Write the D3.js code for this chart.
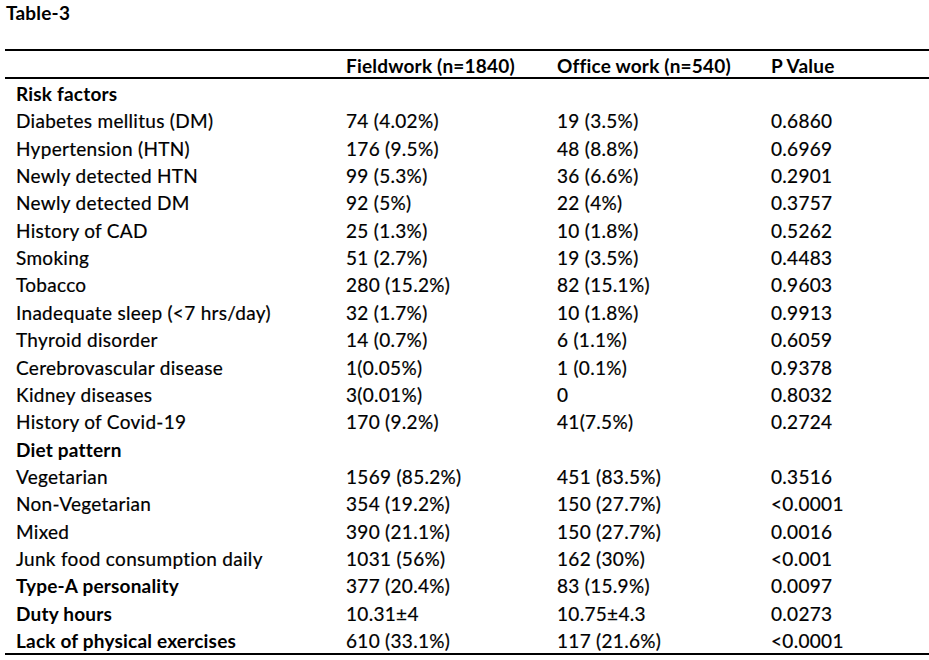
<!DOCTYPE html>
<meta charset="utf-8">
<head>
  <script src="https://cdnjs.cloudflare.com/ajax/libs/d3/7.8.5/d3.min.js"></script>
  <style type="text/css">
    body {
      margin: 0px;
      padding: 0px;
      background: #fff;
    }
    text {
      font-family: Lato, "Open Sans", sans-serif;
      font-size: 19px;
      letter-spacing: 0.3px;
      fill: #000;
      stroke: #000;
      stroke-width: 0.2px;
    }
    .bold {
      font-weight: bold;
      letter-spacing: 0.2px;
      stroke-width: 0;
    }
  </style>
</head>
<body>
<svg id="chart" width="929" height="660"></svg>
<script>
  // table content
  var title = "Table-3";
  var headers = ["", "Fieldwork (n=1840)", "Office work (n=540)", "P Value"];

  var rowLabels = ["Risk factors", "Diabetes mellitus (DM)", "Hypertension (HTN)", "Newly detected HTN",
    "Newly detected DM", "History of CAD", "Smoking", "Tobacco", "Inadequate sleep (<7 hrs/day)",
    "Thyroid disorder", "Cerebrovascular disease", "Kidney diseases", "History of Covid-19",
    "Diet pattern", "Vegetarian", "Non-Vegetarian", "Mixed", "Junk food consumption daily",
    "Type-A personality", "Duty hours", "Lack of physical exercises"];

  var fieldwork = ["", "74 (4.02%)", "176 (9.5%)", "99 (5.3%)", "92 (5%)", "25 (1.3%)", "51 (2.7%)",
    "280 (15.2%)", "32 (1.7%)", "14 (0.7%)", "1(0.05%)", "3(0.01%)", "170 (9.2%)",
    "", "1569 (85.2%)", "354 (19.2%)", "390 (21.1%)", "1031 (56%)",
    "377 (20.4%)", "10.31\u00b14", "610 (33.1%)"];

  var officeWork = ["", "19 (3.5%)", "48 (8.8%)", "36 (6.6%)", "22 (4%)", "10 (1.8%)", "19 (3.5%)",
    "82 (15.1%)", "10 (1.8%)", "6 (1.1%)", "1 (0.1%)", "0", "41(7.5%)",
    "", "451 (83.5%)", "150 (27.7%)", "150 (27.7%)", "162 (30%)",
    "83 (15.9%)", "10.75\u00b14.3", "117 (21.6%)"];

  var pValues = ["", "0.6860", "0.6969", "0.2901", "0.3757", "0.5262", "0.4483",
    "0.9603", "0.9913", "0.6059", "0.9378", "0.8032", "0.2724",
    "", "0.3516", "<0.0001", "0.0016", "<0.001",
    "0.0097", "0.0273", "<0.0001"];

  var boldRows = ["Risk factors", "Diet pattern", "Type-A personality", "Duty hours", "Lack of physical exercises"];

  var svg = d3.select("#chart");

  // row and column positions
  var y = d3.scalePoint()
    .domain(d3.range(rowLabels.length))
    .range([101, 648]);

  var x = d3.scaleOrdinal()
    .domain([0, 1, 2, 3])
    .range([16, 346, 557, 771]);

  svg.append("text")
    .attr("class", "bold")
    .attr("x", 6)
    .attr("y", 20)
    .text(title);

  // rules
  var rules = [50, 78, 654];
  svg.selectAll("line.rule")
    .data(rules)
    .enter().append("line")
    .attr("class", "rule")
    .attr("x1", 5)
    .attr("x2", 929)
    .attr("y1", function (d) { return d; })
    .attr("y2", function (d) { return d; })
    .attr("stroke", "#000")
    .attr("stroke-width", 2);

  svg.selectAll("text.head")
    .data(headers)
    .enter().append("text")
    .attr("class", "head bold")
    .attr("x", function (d, i) { return x(i); })
    .attr("y", 73)
    .text(function (d) { return d; });

  var rows = rowLabels.map(function (label, i) {
    return [label, fieldwork[i], officeWork[i], pValues[i]];
  });

  var g = svg.selectAll("g.row")
    .data(rows)
    .enter().append("g")
    .attr("class", "row")
    .attr("transform", function (d, i) { return "translate(0," + y(i) + ")"; });

  g.selectAll("text")
    .data(function (d) { return d; })
    .enter().append("text")
    .attr("class", function (d, i, nodes) {
      var label = d3.select(nodes[i].parentNode).datum()[0];
      return (i === 0 && boldRows.indexOf(label) >= 0) ? "bold" : null;
    })
    .attr("x", function (d, i) { return x(i); })
    .attr("y", 0)
    .text(function (d) { return d; });
</script>
</body>
</html>
